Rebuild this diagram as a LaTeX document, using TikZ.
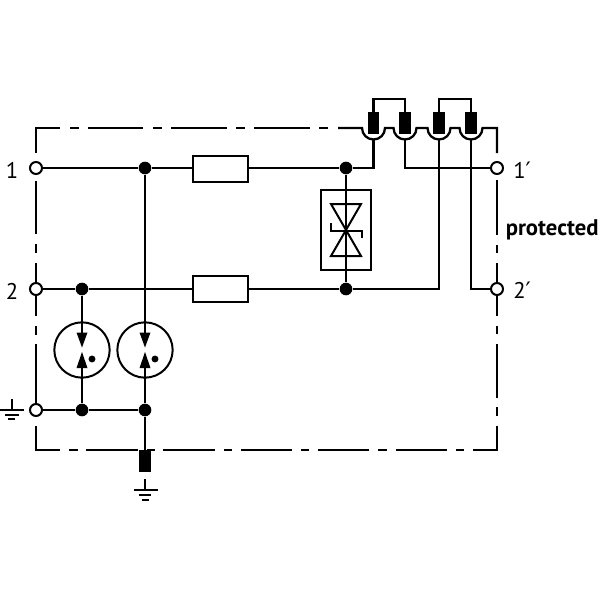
\documentclass[tikz,border=0pt]{standalone}
\usepackage{fontspec}
\setmainfont{PT Sans}
\newfontfamily\primefont{DejaVu Sans}
\begin{document}
\begin{tikzpicture}[x=0.75pt,y=-0.75pt,
  wire/.style={line width=1.65pt,line cap=butt},
  thinwire/.style={line width=1.5pt},
  frameline/.style={line width=1.7pt,miter limit=10},
  terminal/.style={circle,draw=black,fill=white,line width=1.5pt,inner sep=0pt,minimum size=9pt},
  junction/.style={circle,fill=black,inner sep=0pt,minimum size=9.5pt},
  resistor/.style={rectangle,draw=black,fill=white,line width=1.5pt,inner sep=0pt,minimum width=41pt,minimum height=19.5pt},
  fuse/.style={rectangle,fill=black,inner sep=0pt,minimum width=8.4pt,minimum height=16.5pt},
  arrester/.style={circle,draw=black,line width=1.5pt,inner sep=0pt,minimum size=41.5pt},
  dotmark/.style={circle,fill=black,inner sep=0pt,minimum size=5.2pt},
  tvsbox/.style={rectangle,draw=black,line width=1.5pt,inner sep=0pt,minimum width=37.5pt,minimum height=60pt},
  lab/.style={inner sep=0pt,font=\fontsize{17}{17}\selectfont},
  every node/.append style={anchor=center}]
\useasboundingbox (0,0) rectangle (600,600);
\fill[white] (0,0) rectangle (600,600);
% dash-dotted enclosure
\foreach \a/\b in {70/79,88/143,153/162,171/227,236/245,254/310,319/328}
  \draw[frameline] (\a,128) -- (\b,128);
\foreach \a/\b in {69/78,86/138,147/155,163/215,224/232,241/292,301/309,318/369,378/387,396/447,456/464}
  \draw[frameline] (\a,450) -- (\b,450);
\foreach \a/\b in {181/234,244/253,263/316,326/335,344/406}
  \draw[frameline] (36,\a) -- (36,\b);
\foreach \a/\b in {180/235,245/253,263/316,326/334,344/398,407/416}
  \draw[frameline] (497,\a) -- (497,\b);
\draw[frameline] (36,153) -- (36,128) -- (60,128);
\draw[frameline] (36,426) -- (36,450) -- (60,450);
\draw[frameline] (473,450) -- (497,450) -- (497,426);
% the coil path along the top edge
\draw[frameline] (338,128) -- (362,128) arc[start angle=180,end angle=0,radius=11.5]
  -- (393.5,128) arc[start angle=180,end angle=0,radius=11.5]
  -- (427.5,128) arc[start angle=180,end angle=0,radius=11.5]
  -- (459.5,128) arc[start angle=180,end angle=0,radius=11.5]
  -- (497,128) -- (497,153);
% nodes
\node[terminal] (t1) at (36,168) {};
\node[terminal] (t2) at (36,289) {};
\node[terminal] (t3) at (36,410) {};
\node[terminal] (t1p) at (497,168) {};
\node[terminal] (t2p) at (497,289) {};
\node[junction] (j1) at (145,168) {};
\node[junction] (j2) at (346,168) {};
\node[junction] (j3) at (82,289) {};
\node[junction] (j4) at (346,289) {};
\node[junction] (j5) at (82,410) {};
\node[junction] (j6) at (145,410) {};
\node[resistor] (r1) at (220.5,168.5) {};
\node[resistor] (r2) at (220.5,289) {};
\node[tvsbox] (tvs) at (346,230) {};
\node[arrester] (a1) at (82,350) {};
\node[arrester] (a2) at (145,350) {};
\node[dotmark] (d1) at (92,359) {};
\node[dotmark] (d2) at (155,359) {};
\node[fuse] (f1) at (373.5,123) {};
\node[fuse] (f2) at (405,123) {};
\node[fuse] (f3) at (439,123) {};
\node[fuse] (f4) at (471,123) {};
\node[fuse] (f5) at (145,461) {};
% helper points
\coordinate (a1t) at (82,333);
\coordinate (a1b) at (82,368);
\coordinate (a2t) at (145,333);
\coordinate (a2b) at (145,368);
\coordinate (e1) at (373.5,139.5);
\coordinate (e2) at (405,139.5);
\coordinate (e3) at (439,139.5);
\coordinate (e4) at (471,139.5);
\coordinate (b1) at (389.25,99);
\coordinate (b2) at (455,99);
\coordinate (g1) at (145,479);
\coordinate (g1b) at (145,490);
\coordinate (g2) at (12,399);
\coordinate (g2b) at (12,409.5);
% wires
\draw[wire] (t1) -- (j1);
\draw[wire] (j1) -- (r1.west |- j1);
\draw[wire] (r1.east |- j2) -- (j2);
\draw[wire] (j2) -| (e1);
\draw[wire] (e2) |- (t1p);
\draw[wire] (t2) -- (j3);
\draw[wire] (j3) -- (r2);
\draw[wire] (r2) -- (j4);
\draw[wire] (j4) -| (e3);
\draw[wire] (e4) |- (t2p);
\draw[wire] (t3) -- (j5);
\draw[wire] (j5) -- (j6);
\draw[wire] (j2) -- (j4);
\draw[wire] (j3) -- (a1t);
\draw[wire] (a1b) -- (j5);
\draw[wire] (j1) -- (a2t);
\draw[wire] (a2b) -- (j6);
\draw[wire] (j6) -- (f5);
\draw[wire] (f1.north) |- (b1) -| (f2.north);
\draw[wire] (f3.north) |- (b2) -| (f4.north);
% arrester heads
\foreach \n/\x in {a1/82,a2/145}{
  \fill (\x-5.5,332.5) -- (\x+5.5,332.5) -- (\x,347.5) -- cycle;
  \fill (\x-5.5,368) -- (\x+5.5,368) -- (\x,352) -- cycle;
}
% tvs symbol
\draw[thinwire,line join=miter] (331,204) -- (361,204) -- (331,256) -- (361,256) -- cycle;
\draw[thinwire] (331,223) -- (331,231) -- (362,231) -- (362,238);
% ground symbols
\draw[wire] (g1) -- (g1b);
\draw[thinwire] (133.5,490) -- (157.5,490);
\draw[thinwire] (139,495) -- (151,495);
\draw[thinwire] (141.5,500) -- (148.5,500);
\draw[wire] (g2) -- (g2b);
\draw[thinwire] (0,409.5) -- (24,409.5);
\draw[thinwire] (5,414.5) -- (19,414.5);
\draw[thinwire] (8,419) -- (15,419);
% labels
\node[lab] (l1) at (12,170) {1};
\node[lab] (l2) at (12,291) {2};
\node[lab,anchor=west] (l3) at (513,170) {1{\primefont\fontsize{17}{17}\selectfont ′}};
\node[lab,anchor=west] (l4) at (513,290) {2{\primefont\fontsize{17}{17}\selectfont ′}};
\node[lab,anchor=west,font=\fontsize{17}{17}\selectfont\bfseries] (l5) at (505.5,229.5) {protected};
\end{tikzpicture}
\end{document}
